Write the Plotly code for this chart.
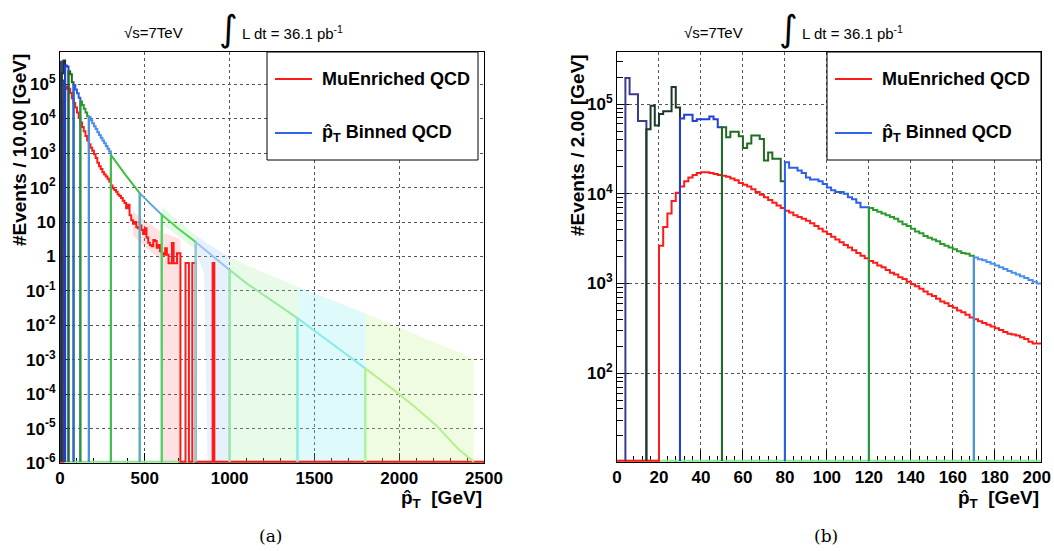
import plotly.graph_objects as go

W, H = 1054, 551

def PX(x):
    return x / W

def PY(y):
    return 1 - y / H

# ---------------- Panel (b): 2 GeV bins, log10(#events / 2 GeV) ----------------
B_BIN = 2.0
B_XMAX = 202
B_LOGMIN, B_LOGMAX = 1.01, 5.58
# MuEnriched QCD, bins starting at 0 GeV (None = empty bin)
B_MU_LOG = [None, None, None, None, None, None, None, None, None, None,
            3.42, 3.63, 3.78, 3.92, 4.01, 4.08, 4.14, 4.18, 4.21, 4.23,
            4.24, 4.24, 4.23, 4.22, 4.21, 4.20, 4.19, 4.17, 4.15, 4.12,
            4.10, 4.08, 4.05, 4.02, 3.99, 3.96, 3.93, 3.90, 3.87, 3.84,
            3.81, 3.79, 3.76, 3.74, 3.72, 3.70, 3.67, 3.64, 3.61, 3.58,
            3.55, 3.52, 3.49, 3.46, 3.43, 3.40, 3.37, 3.34, 3.31, 3.28,
            3.25, 3.23, 3.20, 3.18, 3.15, 3.12, 3.10, 3.07, 3.05, 3.02,
            2.99, 2.97, 2.94, 2.91, 2.88, 2.86, 2.83, 2.80, 2.78, 2.75,
            2.73, 2.70, 2.68, 2.65, 2.62, 2.60, 2.58, 2.56, 2.54, 2.52,
            2.50, 2.48, 2.46, 2.44, 2.43, 2.42, 2.40, 2.38, 2.35, 2.33,
            2.33]
# pT-hat binned QCD samples (first bin low edge, values per 2 GeV bin)
B_SAMPLE_LO = [4, 14, 30, 50, 80, 120, 170]
B_SAMPLE_LOG = [
    [5.29, 5.11, 5.11, 4.81, 4.81],
    [4.72, 4.98, 4.76, 4.89, 4.92, 4.92, 5.19, 4.96],
    [4.84, 4.88, 4.88, 4.81, 4.83, 4.83, 4.83, 4.86, 4.83, 4.74],
    [4.74, 4.63, 4.69, 4.69, 4.64, 4.51, 4.56, 4.65, 4.65, 4.61, 4.37, 4.46, 4.39, 4.39, 4.14],
    [4.35, 4.29, 4.29, 4.26, 4.23, 4.18, 4.16, 4.16, 4.14, 4.11, 4.07, 4.04, 4.02, 4.02,
     4.00, 3.96, 3.94, 3.90, 3.85, 3.85],
    [3.84, 3.82, 3.80, 3.78, 3.76, 3.74, 3.72, 3.69, 3.66, 3.64, 3.61, 3.58, 3.56, 3.53,
     3.51, 3.49, 3.47, 3.44, 3.42, 3.40, 3.38, 3.36, 3.34, 3.33, 3.31],
    [3.29, 3.27, 3.26, 3.24, 3.22, 3.20, 3.18, 3.16, 3.14, 3.12, 3.10, 3.08, 3.06, 3.04,
     3.02, 3.00],
]
B_SAMPLE_COLORS = ["#3c3c8c", "#1b3a26", "#1f3fd8", "#1f6b1f", "#2a5fe8", "#2a9a2a", "#4a90ea"]

# ---------------- Panel (a): 10 GeV bins, log10(#events / 10 GeV) ----------------
A_BIN = 10.0
A_XMAX = 2500
A_LOGMIN, A_LOGMAX = -6.0, 5.94
A_MU_LOG = [None, None,
            4.50, 4.87, 4.93, 4.87, 4.75, 4.60, 4.46, 4.33, 4.18, 4.03,
            3.89, 3.76, 3.64, 3.50, 3.37, 3.26, 3.16, 3.07, 2.97, 2.86,
            2.72, 2.62, 2.54, 2.45, 2.38, 2.32, 2.26, 2.18, 2.06, 1.98,
            1.93, 1.88, 1.80, 1.76, 1.70, 1.62, 1.55, 1.40, 1.50, 1.20,
            1.05, 0.95, 1.00, 0.85, 0.82, 0.90, 0.77, 0.65, 0.82, 0.55,
            0.40, 0.33, 0.30, 0.48, 0.45, 0.25, 0.33, 0.15, 0.09, 0.05,
            0.24, 0.05, -0.20, -0.20, 0.39, -0.20, -0.20, 0.09, 0.09, None,
            None, None, -0.19, -0.19, None, None, -0.19, -0.19, None, None,
            None, None, None, None, None, None, None, None, -0.19]
# low pT-hat samples drawn as 10 GeV steps
A_LOW_LO = [0, 10, 30, 50, 80, 120, 170]
A_LOW_LOG = [
    [5.66, 5.11],
    [5.32, 5.69],
    [5.55, 5.52],
    [5.38, 5.29, 5.06],
    [4.98, 4.85, 4.74, 4.61],
    [4.50, 4.40, 4.29, 4.18, 4.07],
    [4.05, 3.96, 3.87, 3.78, 3.70, 3.61, 3.53, 3.45, 3.37, 3.29, 3.21, 3.13, 3.05],
]
A_LOW_COLORS = ["#3c3c8c", "#1b3a26", "#1f3fd8", "#1f6b1f", "#2a5fe8", "#2a9a2a", "#4a90ea"]
# high pT-hat samples: curve readings (GeV, log10)
A_HIGH_RANGE = [(300, 470), (470, 600), (600, 800), (800, 1000), (1000, 1400), (1400, 1800), (1800, 2440)]
A_HIGH_X = [
    [300, 385, 470],
    [470, 535, 600],
    [600, 700, 800],
    [800, 900, 1000],
    [1000, 1100, 1200, 1300, 1400],
    [1400, 1600, 1800],
    [1800, 2000, 2100, 2220, 2350, 2400, 2435],
]
A_HIGH_LOG = [
    [2.95, 2.38, 1.84],
    [1.84, 1.52, 1.21],
    [1.21, 0.80, 0.42],
    [0.42, 0.01, -0.39],
    [-0.39, -0.78, -1.12, -1.45, -1.79],
    [-1.79, -2.52, -3.25],
    [-3.25, -4.00, -4.40, -4.92, -5.60, -5.80, -5.96],
]
A_HIGH_COLORS = ["#40c040", "#5fa6d6", "#4cd84c", "#9cc4f0", "#9aeaa0", "#84ecec", "#b8f090"]
# statistical error bands (upper / lower edge, log10; -6 = down to axis)
A_BAND_X = [[600, 800], [800, 850, 870, 1000], [1000, 1120, 1400], [1400, 1800], [1800, 2440],
            [430, 500, 590, 600, 710]]
A_BAND_UP = [[1.45, 0.62], [0.62, 0.45, 0.38, -0.02], [-0.02, -0.29, -0.88], [-0.88, -1.65],
             [-1.65, -2.97], [1.30, 1.05, 0.75, 0.70, 0.50]]
A_BAND_LO = [[0.95, 0.20], [0.15, -0.50, -6, -6], [-6, -6, -6], [-6, -6], [-6, -6],
             [0.60, 0.30, -0.10, -6, -6]]
A_BAND_COLORS = ["rgba(76,216,76,0.14)", "rgba(140,190,240,0.22)", "rgba(150,230,150,0.22)",
                 "rgba(130,235,235,0.26)", "rgba(195,245,140,0.26)", "rgba(255,90,90,0.18)"]

MU_COLOR = "#ff1a1a"
BOTTOM_COLOR = "#90e890"

BOT_A = 10 ** (A_LOGMIN + 0.035)
BOT_B = 10 ** (B_LOGMIN + 0.013)


def step_path(lo, width, logs, bottom, close=True):
    xs, ys = [lo], [bottom]
    x = lo
    for v in logs:
        yv = bottom if v is None else 10 ** v
        xs += [x, x + width]
        ys += [yv, yv]
        x += width
    if close:
        xs.append(x)
        ys.append(bottom)
    return xs, ys


def curve_path(lo, hi, xpts, logs, bottom):
    xs = [lo] + list(xpts) + [hi, hi]
    ys = [bottom] + [10 ** v for v in logs] + [10 ** logs[-1], bottom]
    return xs, ys


fig = go.Figure()

def add_line(xs, ys, color, axis, width=2):
    fig.add_trace(go.Scatter(x=xs, y=ys, mode="lines", line=dict(color=color, width=width),
                             xaxis="x" if axis == "a" else "x2",
                             yaxis="y" if axis == "a" else "y2",
                             showlegend=False, hoverinfo="skip"))

# ---- panel (a) ----
for bx, bu, bl, bc in zip(A_BAND_X, A_BAND_UP, A_BAND_LO, A_BAND_COLORS):
    up = [10 ** v for v in bu]
    low = [BOT_A if v <= -6 else 10 ** v for v in bl]
    fig.add_trace(go.Scatter(x=bx + bx[::-1], y=up + low[::-1], mode="lines", fill="toself",
                             fillcolor=bc, line=dict(width=0), xaxis="x", yaxis="y",
                             showlegend=False, hoverinfo="skip"))
add_line([0, A_XMAX], [BOT_A, BOT_A], BOTTOM_COLOR, "a")
xs, ys = step_path(0, A_BIN, A_MU_LOG, BOT_A)
xs.append(A_XMAX); ys.append(BOT_A)
add_line(xs, ys, MU_COLOR, "a")
for lo, logs, c in zip(A_LOW_LO, A_LOW_LOG, A_LOW_COLORS):
    xs, ys = step_path(lo, A_BIN, logs, BOT_A)
    add_line(xs, ys, c, "a")
for (lo, hi), xp, lg, c in zip(A_HIGH_RANGE, A_HIGH_X, A_HIGH_LOG, A_HIGH_COLORS):
    xs, ys = curve_path(lo, hi, xp, lg, BOT_A)
    add_line(xs, ys, c, "a")

# ---- panel (b) ----
add_line([0, B_XMAX], [BOT_B, BOT_B], BOTTOM_COLOR, "b")
xs, ys = step_path(0, B_BIN, B_MU_LOG, BOT_B, close=False)
add_line(xs, ys, MU_COLOR, "b")
for i, (lo, logs, c) in enumerate(zip(B_SAMPLE_LO, B_SAMPLE_LOG, B_SAMPLE_COLORS)):
    xs, ys = step_path(lo, B_BIN, logs, BOT_B, close=(i < len(B_SAMPLE_LO) - 1))
    add_line(xs, ys, c, "b")

FONT = "Liberation Sans"
tickfont = dict(family=FONT, size=17, color="black", weight="bold")
common_x = dict(showline=True, linecolor="black", linewidth=1, mirror=True, ticks="inside",
                tickcolor="black", showgrid=True, gridcolor="#555555", griddash="dot",
                gridwidth=1, zeroline=False, tickfont=tickfont, layer="below traces",
                automargin=False)

A_YTICKS = [1e-6, 1e-5, 1e-4, 1e-3, 1e-2, 1e-1, 1, 10, 1e2, 1e3, 1e4, 1e5]
A_YTEXT = ["10<sup>-6</sup>", "10<sup>-5</sup>", "10<sup>-4</sup>", "10<sup>-3</sup>",
           "10<sup>-2</sup>", "10<sup>-1</sup>", "1", "10", "10<sup>2</sup>",
           "10<sup>3</sup>", "10<sup>4</sup>", "10<sup>5</sup>"]
B_YTICKS = [1e2, 1e3, 1e4, 1e5]
B_YTEXT = ["10<sup>2</sup>", "10<sup>3</sup>", "10<sup>4</sup>", "10<sup>5</sup>"]
B_YMINOR = [k * 10 ** e for e in range(1, 6) for k in range(2, 10)]

fig.update_layout(
    width=W, height=H, margin=dict(l=0, r=0, t=0, b=0),
    paper_bgcolor="white", plot_bgcolor="white", showlegend=False,
    xaxis=dict(domain=[PX(60), PX(484)], range=[0, A_XMAX], anchor="y",
               tickvals=[0, 500, 1000, 1500, 2000, 2500], ticklen=10,
               minor=dict(dtick=100, tick0=0, ticks="inside", ticklen=5, tickcolor="black",
                          showgrid=False), **common_x),
    yaxis=dict(domain=[PY(463), PY(52)], type="log", range=[A_LOGMIN, A_LOGMAX], anchor="x",
               tickvals=A_YTICKS, ticktext=A_YTEXT, ticklen=10, **common_x),
    xaxis2=dict(domain=[PX(617), PX(1041)], range=[0, B_XMAX], anchor="y2",
                tickvals=list(range(0, 201, 20)), ticklen=12,
                minor=dict(dtick=4, tick0=0, ticks="inside", ticklen=6, tickcolor="black",
                           showgrid=False), **common_x),
    yaxis2=dict(domain=[PY(462), PY(52)], type="log", range=[B_LOGMIN, B_LOGMAX], anchor="x2",
                tickvals=B_YTICKS, ticktext=B_YTEXT, ticklen=12,
                minor=dict(tickmode="array", tickvals=B_YMINOR, ticks="inside", ticklen=6,
                           tickcolor="black", showgrid=False), **common_x),
)

shapes = []
ann = []

def text(x, y, s, size=15, xanchor="center", yanchor="middle", family=FONT, angle=0):
    ann.append(dict(x=PX(x), y=PY(y), xref="paper", yref="paper", text=s, showarrow=False,
                    xanchor=xanchor, yanchor=yanchor, textangle=angle,
                    font=dict(family=family, size=size, color="black")))

# legends
for (bx0, bx1) in [(267, 478), (827, 1041)]:
    shapes.append(dict(type="rect", xref="paper", yref="paper", x0=PX(bx0), x1=PX(bx1),
                       y0=PY(160), y1=PY(52), fillcolor="white",
                       line=dict(color="black", width=1)))
    shapes.append(dict(type="line", xref="paper", yref="paper", x0=PX(bx0 + 8), x1=PX(bx0 + 45),
                       y0=PY(79), y1=PY(79), line=dict(color=MU_COLOR, width=2)))
    shapes.append(dict(type="line", xref="paper", yref="paper", x0=PX(bx0 + 8), x1=PX(bx0 + 45),
                       y0=PY(133), y1=PY(133), line=dict(color="#2f64e6", width=2)))
    text(bx0 + 53, 79, "<b>MuEnriched QCD</b>", size=18, xanchor="left")
    text(bx0 + 53, 133, "<b>p\u0302<sub>T</sub> Binned QCD</b>", size=18, xanchor="left")

# header texts
for off in [0, 560]:
    text(153 + off, 33, "\u221As=7TeV", size=15)
    text(228 + off, 29, "\u222B", size=36, family="DejaVu Sans")
    text(240 + off, 33, "L dt = 36.1 pb<sup>-1</sup>", size=15, xanchor="left")

# axis titles
text(19, 52, "<b>#Events / 10.00 [GeV]</b>", size=19, yanchor="top", angle=-90)
text(577, 52, "<b>#Events / 2.00 [GeV]</b>", size=19, yanchor="top", angle=-90)
text(484, 485, "<b>p\u0302<sub>T</sub>  [GeV]</b>", size=19, xanchor="right", yanchor="top")
text(1041, 485, "<b>p\u0302<sub>T</sub>  [GeV]</b>", size=19, xanchor="right", yanchor="top")

# sub-figure labels
text(270, 536, "(a)", size=17, family="DejaVu Serif")
text(826, 536, "(b)", size=17, family="DejaVu Serif")

fig.update_layout(shapes=shapes, annotations=ann)
fig.write_html("out.html")
